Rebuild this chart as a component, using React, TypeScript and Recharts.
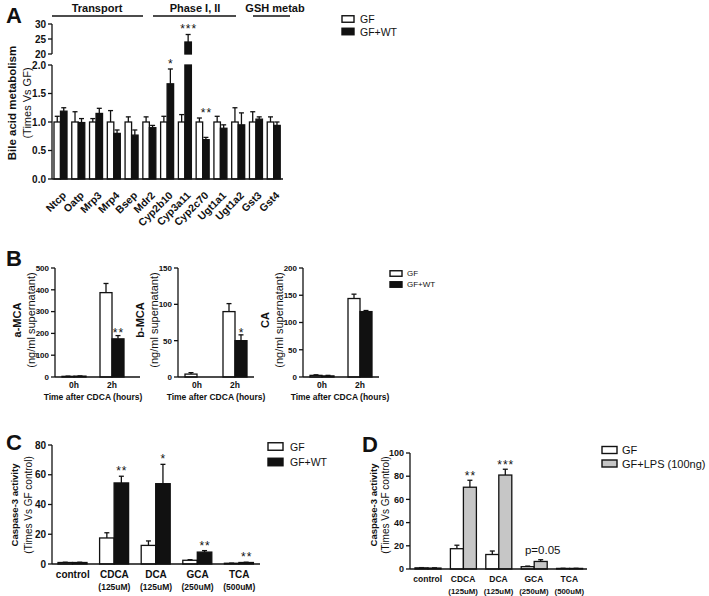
import { BarChart, Bar, XAxis, YAxis } from 'recharts';

const FONT = '"Liberation Sans", Arial, Helvetica, sans-serif';
const INK = '#111111';
const LPS_GRAY = '#c6c6c6';

// A: liver gene expression, fold change vs GF
const genes = ['Ntcp', 'Oatp', 'Mrp3', 'Mrp4', 'Bsep', 'Mdr2', 'Cyp2b10', 'Cyp3a11', 'Cyp2c70', 'Ugt1a1', 'Ugt1a2', 'Gst3', 'Gst4'];
const geneGF = [1, 1, 1, 1, 1, 1, 1, 1, 1, 1, 1, 1, 1];
const geneGFErr = [0.1, 0.18, 0.06, 0.2, 0.09, 0.09, 0.1, 0.13, 0.07, 0.1, 0.25, 0.18, 0.09];
const geneWT = [1.19, 0.99, 1.15, 0.8, 0.77, 0.9, 1.67, 24, 0.69, 0.89, 0.95, 1.05, 0.94];
const geneWTErr = [0.06, 0.07, 0.09, 0.06, 0.09, 0.04, 0.26, 2.5, 0.04, 0.06, 0.21, 0.04, 0.06];
const geneStars = ['', '', '', '', '', '', '*', '***', '**', '', '', '', ''];
const lowTicksA = [0, 0.5, 1, 1.5, 2];
const highTicksA = [20, 25, 30];
const BREAK_LOW = 2;
const BREAK_HIGH = 20;

// B: bile acids in supernatant (ng/ml)
const timePoints = ['0h', '2h'];
const aMcaGF = [3, 387];
const aMcaGFErr = [1, 42];
const aMcaWT = [4, 175];
const aMcaWTErr = [1, 15];
const aMcaStars = ['', '**'];
const bMcaGF = [4, 90];
const bMcaGFErr = [2, 11];
const bMcaWT = [0, 50];
const bMcaWTErr = [0, 8];
const bMcaStars = ['', '*'];
const caGF = [3, 144];
const caGFErr = [1, 8];
const caWT = [2, 120];
const caWTErr = [1, 2];
const caStars = ['', ''];

// C, D: caspase-3 activity, fold vs GF control
const treatments = ['control', 'CDCA', 'DCA', 'GCA', 'TCA'];
const doses = ['', '(125uM)', '(125uM)', '(250uM)', '(500uM)'];
const casGF = [1, 17.5, 12.5, 2.5, 0.5];
const casGFErr = [0.2, 3.5, 3, 0.4, 0.1];
const casWT = [1, 54.5, 54, 8, 1];
const casWTErr = [0.2, 4.5, 13, 1, 0.2];
const casStars = ['', '**', '*', '**', '**'];
const lpsGF = [1, 17.5, 12.5, 2, 0.5];
const lpsGFErr = [0.2, 3, 3, 0.5, 0.1];
const lpsLPS = [0.8, 70.5, 81, 6.5, 0.5];
const lpsLPSErr = [0.2, 6, 5, 1.5, 0.1];
const lpsStars = ['', '**', '***', 'p=0.05', ''];

const rows = (
  cats: string[],
  a: (number | null)[],
  aErr: number[],
  b: (number | null)[],
  bErr: number[],
  stars: string[],
  ownTop = false,
) =>
  cats.map((name, i) => ({
    name,
    a: a[i],
    aErr: aErr[i],
    b: b[i],
    bErr: bErr[i],
    star: stars[i],
    top: ownTop ? (b[i] ?? 0) + bErr[i] : Math.max((a[i] ?? 0) + aErr[i], (b[i] ?? 0) + bErr[i]),
  }));

const geneLow = rows(
  genes,
  geneGF,
  geneGFErr,
  geneWT.map((v) => Math.min(v, BREAK_LOW)),
  geneWT.map((v, i) => (v > BREAK_LOW ? 0 : geneWTErr[i])),
  geneStars.map((s, i) => (geneWT[i] > BREAK_LOW ? '' : s)),
);
const geneHigh = rows(
  genes,
  genes.map(() => null),
  geneGFErr.map(() => 0),
  geneWT.map((v) => (v > BREAK_HIGH ? v : null)),
  geneWTErr,
  geneStars.map((s, i) => (geneWT[i] > BREAK_HIGH ? s : '')),
);

const barShape = (valKey: string, errKey: string, fill: string, base: number, starGap?: number) => (p: any) => {
  const v = p.payload[valKey];
  if (v == null || !isFinite(p.y)) return <g />;
  const h = Math.max(p.height || 0, 0);
  const bottom = p.y + h;
  const unit = v > base ? h / (v - base) : 0;
  const e = p.payload[errKey] || 0;
  const cx = p.x + p.width / 2;
  const yE = bottom - (v + e - base) * unit;
  const star: string = p.payload.star;
  let starEl = null;
  if (starGap != null && star && unit > 0) {
    const yTop = bottom - (p.payload.top - base) * unit;
    starEl = star.startsWith('p')
      ? <text x={cx + 2} y={yTop - 6} textAnchor="middle" fontSize={11.5} fontFamily={FONT} fill={INK}>{star}</text>
      : <text x={cx + 0.5} y={yTop - starGap + 6.9} textAnchor="middle" fontSize={12} letterSpacing={1} fontFamily={FONT} fill={INK}>{star}</text>;
  }
  return (
    <g>
      {e > 0 && unit > 0 && (
        <g stroke={INK} strokeWidth={1.3}>
          <line x1={cx} x2={cx} y1={p.y} y2={yE} />
          <line x1={cx - 2.5} x2={cx + 2.5} y1={yE} y2={yE} />
        </g>
      )}
      <rect x={p.x} y={p.y} width={p.width} height={h} fill={fill} stroke={INK} strokeWidth={1.3} />
      {starEl}
    </g>
  );
};

const GeneTick = ({ x, y, payload }: any) => (
  <text x={x + 6} y={y + 17} transform={`rotate(-45, ${x + 6}, ${y + 17})`} textAnchor="end" fontSize={10.5} fontWeight="bold" fontFamily={FONT} fill={INK}>
    {payload.value}
  </text>
);

const TimeTick = ({ x, y, payload }: any) => (
  <text x={x} y={y + 11} textAnchor="middle" fontSize={8.5} fontWeight="bold" fontFamily={FONT} fill={INK}>
    {payload.value}
  </text>
);

const doseTick = (f1: number, f2: number, y1: number, y2: number) => ({ x, y, payload }: any) => (
  <g fontFamily={FONT} fill={INK} fontWeight="bold" textAnchor="middle">
    <text x={x} y={y + y1} fontSize={f1}>{payload.value}</text>
    <text x={x} y={y + y2} fontSize={f2}>{doses[payload.index]}</text>
  </g>
);

interface PlotProps {
  x0: number;
  x1: number;
  y0: number;
  y1: number;
  data: any[];
  domain: [number, number];
  ticks: number[];
  fmt?: (v: number) => string;
  yw: number;
  xh: number;
  barSize: number;
  fillB: string;
  base?: number;
  tick?: any;
  hideX?: boolean;
  padRight?: number;
  tickFont: number;
  starGap: number;
}

function Plot(p: PlotProps) {
  const mt = 14;
  const mr = 12;
  const mb = p.hideX ? 8 : 0;
  const width = p.yw + (p.x1 - p.x0) + mr;
  const height = mt + (p.y1 - p.y0) + (p.hideX ? 0 : p.xh) + mb;
  const base = p.base ?? 0;
  return (
    <div style={{ position: 'absolute', left: p.x0 - p.yw, top: p.y0 - mt }}>
      <BarChart width={width} height={height} data={p.data} margin={{ top: mt, right: mr, left: 0, bottom: mb }} barGap={0}>
        <XAxis
          dataKey="name"
          hide={p.hideX}
          height={p.xh}
          axisLine={{ stroke: INK, strokeWidth: 1.3 }}
          tickLine={false}
          tickSize={0}
          tickMargin={0}
          tick={p.tick}
          interval={0}
          padding={{ left: 0, right: p.padRight ?? 0 }}
        />
        <YAxis
          type="number"
          width={p.yw}
          domain={p.domain}
          ticks={p.ticks}
          interval={0}
          tickFormatter={p.fmt}
          axisLine={{ stroke: INK, strokeWidth: 1.3 }}
          tickLine={{ stroke: INK, strokeWidth: 1.3 }}
          tickSize={4}
          tickMargin={2}
          tick={{ fill: INK, fontSize: p.tickFont, fontWeight: 'bold', fontFamily: FONT }}
        />
        <Bar dataKey="a" barSize={p.barSize} isAnimationActive={false} shape={barShape('a', 'aErr', '#ffffff', base)} />
        <Bar dataKey="b" barSize={p.barSize} isAnimationActive={false} shape={barShape('b', 'bErr', p.fillB, base, p.starGap)} />
      </BarChart>
    </div>
  );
}

const Legend2 = ({ x, y1, y2, w, h, tx, fs, labels, fill2 }: any) => (
  <g fontFamily={FONT} fontSize={fs} fill={INK}>
    <rect x={x} y={y1 - h / 2} width={w} height={h} fill="#fff" stroke={INK} strokeWidth={1.4} />
    <rect x={x} y={y2 - h / 2} width={w} height={h} fill={fill2} stroke={INK} strokeWidth={1.4} />
    <text x={tx} y={y1} dominantBaseline="central">{labels[0]}</text>
    <text x={tx} y={y2} dominantBaseline="central">{labels[1]}</text>
  </g>
);

const VTitle = ({ x, y, text, fs, bold }: any) => (
  <text x={x} y={y} transform={`rotate(-90, ${x}, ${y})`} textAnchor="middle" dominantBaseline="central" fontSize={fs} fontWeight={bold ? 'bold' : 'normal'} fontFamily={FONT} fill={INK}>
    {text}
  </text>
);

export default function App() {
  const bRows1 = rows(timePoints, aMcaGF, aMcaGFErr, aMcaWT, aMcaWTErr, aMcaStars, true);
  const bRows2 = rows(timePoints, bMcaGF, bMcaGFErr, bMcaWT, bMcaWTErr, bMcaStars, true);
  const bRows3 = rows(timePoints, caGF, caGFErr, caWT, caWTErr, caStars, true);
  const cRows = rows(treatments, casGF, casGFErr, casWT, casWTErr, casStars);
  const dRows = rows(treatments, lpsGF, lpsGFErr, lpsLPS, lpsLPSErr, lpsStars);

  return (
    <div style={{ position: 'absolute', left: 0, top: 0, width: 709, height: 596, background: '#fff', fontFamily: FONT }}>
      {/* A */}
      <Plot x0={52} x1={283} y0={24} y1={54} data={geneHigh} domain={[20, 30]} ticks={highTicksA} yw={52} xh={0} hideX barSize={6.5} fillB={INK} base={20} tickFont={10} starGap={8} />
      <Plot x0={52} x1={283} y0={65} y1={179} data={geneLow} domain={[0, 2]} ticks={lowTicksA} fmt={(v) => v.toFixed(1)} yw={52} xh={50} barSize={6.5} fillB={INK} tick={<GeneTick />} tickFont={10} starGap={8} />

      {/* B */}
      <Plot x0={55} x1={140} y0={268} y1={377} data={bRows1} domain={[0, 500]} ticks={[0, 100, 200, 300, 400, 500]} yw={40} xh={30} padRight={9} barSize={12} fillB={INK} tick={<TimeTick />} tickFont={8} starGap={5} />
      <Plot x0={178} x1={254} y0={268} y1={377} data={bRows2} domain={[0, 150]} ticks={[0, 50, 100, 150]} yw={30} xh={30} barSize={12} fillB={INK} tick={<TimeTick />} tickFont={8} starGap={5} />
      <Plot x0={303} x1={379} y0={268} y1={377} data={bRows3} domain={[0, 200]} ticks={[0, 50, 100, 150, 200]} yw={30} xh={30} barSize={12} fillB={INK} tick={<TimeTick />} tickFont={8} starGap={5} />

      {/* C */}
      <Plot x0={52} x1={260} y0={445} y1={564} data={cRows} domain={[0, 80]} ticks={[0, 20, 40, 60, 80]} yw={24} xh={30} barSize={14.5} fillB={INK} tick={doseTick(10, 8.5, 14, 25.5)} tickFont={10} starGap={8} />

      {/* D */}
      <Plot x0={410} x1={587} y0={453} y1={569} data={dRows} domain={[0, 100]} ticks={[0, 20, 40, 60, 80, 100]} yw={24} xh={27} barSize={13} fillB={LPS_GRAY} tick={doseTick(8.5, 7.8, 13, 25)} tickFont={9} starGap={7} />

      <svg width={709} height={596} style={{ position: 'absolute', left: 0, top: 0, pointerEvents: 'none' }}>
        <g fontFamily={FONT} fontWeight="bold" fontSize={22} fill={INK}>
          <text x={6} y={23}>A</text>
          <text x={6} y={266}>B</text>
          <text x={6} y={450}>C</text>
          <text x={362} y={452}>D</text>
        </g>

        {/* A headers */}
        <g fontFamily={FONT} fontWeight="bold" fontSize={11} fill={INK} textAnchor="middle">
          <text x={97} y={12}>Transport</text>
          <text x={195} y={12}>Phase I, II</text>
          <text x={275} y={12}>GSH metab</text>
        </g>
        <g stroke={INK} strokeWidth={1.4}>
          <line x1={52} x2={143} y1={16} y2={16} />
          <line x1={153} x2={236} y1={16} y2={16} />
          <line x1={253} x2={290} y1={16} y2={16} />
        </g>
        <VTitle x={12} y={103} text="Bile acid metabolism" fs={11.5} bold />
        <VTitle x={27} y={103} text="(Times Vs GF)" fs={11} />
        <Legend2 x={342} y1={19} y2={31.5} w={12} h={6.5} tx={360} fs={10.5} labels={['GF', 'GF+WT']} fill2={INK} />

        {/* B titles */}
        <VTitle x={17} y={320} text="a-MCA" fs={11} bold />
        <VTitle x={31} y={320} text="(ng/ml supernatant)" fs={11} />
        <VTitle x={140} y={320} text="b-MCA" fs={11} bold />
        <VTitle x={154} y={320} text="(ng/ml supernatant)" fs={11} />
        <VTitle x={265} y={320} text="CA" fs={11} bold />
        <VTitle x={279} y={320} text="(ng/ml supernatant)" fs={11} />
        <g fontFamily={FONT} fontWeight="bold" fontSize={8.5} fill={INK} textAnchor="middle">
          <text x={93} y={400}>Time after CDCA (hours)</text>
          <text x={216} y={400}>Time after CDCA (hours)</text>
          <text x={340} y={400}>Time after CDCA (hours)</text>
        </g>
        <Legend2 x={390} y1={273.5} y2={284.5} w={12} h={5.5} tx={407} fs={8} labels={['GF', 'GF+WT']} fill2={INK} />

        {/* C */}
        <VTitle x={14} y={505} text="Caspase-3 activity" fs={9.5} bold />
        <VTitle x={28} y={505} text="(Times Vs GF control)" fs={10} />
        <Legend2 x={268} y1={446.5} y2={462} w={15} h={7.5} tx={290} fs={10.5} labels={['GF', 'GF+WT']} fill2={INK} />

        {/* D */}
        <VTitle x={373} y={505} text="Caspase-3 activity" fs={9.5} bold />
        <VTitle x={385} y={505} text="(Times Vs GF control)" fs={10} />
        <Legend2 x={602} y1={450} y2={463.5} w={15} h={7} tx={622} fs={11} labels={['GF', 'GF+LPS (100ng)']} fill2={LPS_GRAY} />
      </svg>
    </div>
  );
}
